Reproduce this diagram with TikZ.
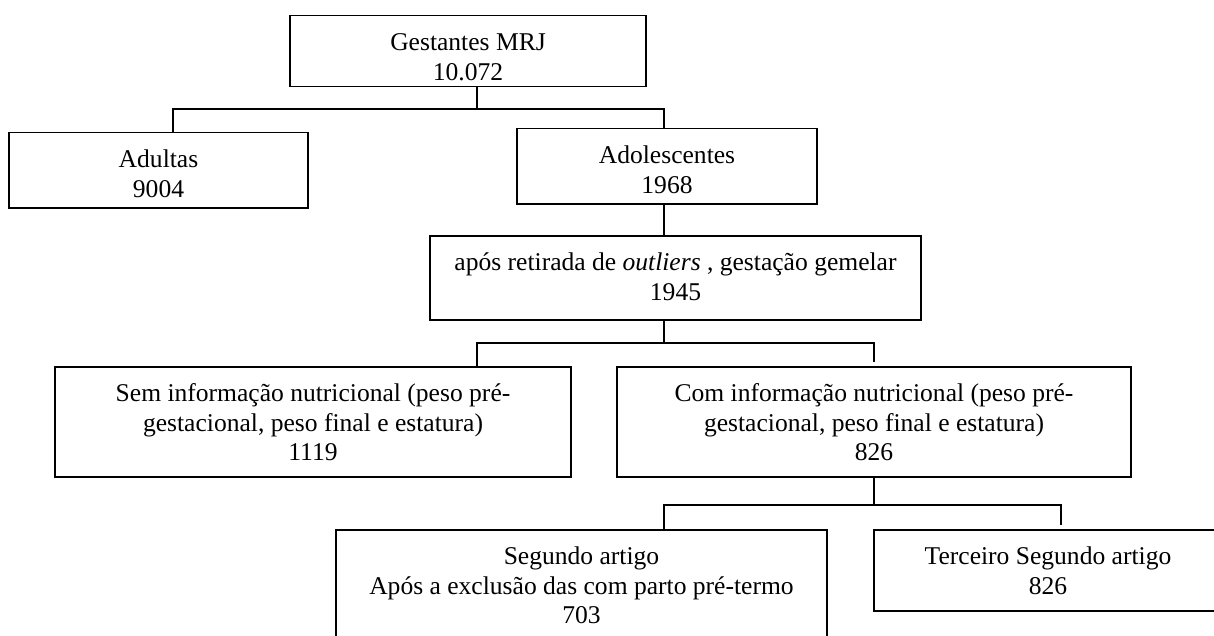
\documentclass[tikz,border=0pt]{standalone}
\usepackage{fontspec}
\setmainfont{Liberation Serif}
\newlength\upx
\setlength\upx{0.4695pt}
\begin{document}
\begin{tikzpicture}[x=\upx, y=-\upx,
    box/.style={draw, line width=0.7pt, inner sep=0pt, anchor=north, align=center,
      font=\fontsize{12pt}{13.8pt}\selectfont},
    box2/.style={box, text height=64.4\upx},
    box3/.style={box, text height=93.8\upx},
    link/.style={line width=0.7pt}]
  \useasboundingbox (0,0) rectangle (1214,635);
  \clip (0,0) rectangle (1214,635);
  \begin{scope}
    \node[box2, minimum width=356\upx, text depth=6.6\upx] (ges) at (468,15) {Gestantes MRJ\\10.072};
    \node[box2, minimum width=299\upx, text depth=10.6\upx] (adu) at (158.5,132) {Adultas\\9004};
    \node[box2, minimum width=300\upx, text depth=10.6\upx] (ado) at (667,128) {Adolescentes\\1968};
    \node[box2, minimum width=491\upx, text depth=19.6\upx] (apos) at (675.5,235) {após retirada de \textit{outliers} , gestação gemelar\\1945};
    \node[box3, minimum width=516\upx, text depth=16.2\upx] (sem) at (313,366) {Sem informação nutricional (peso pré-\\gestacional, peso final e estatura)\\1119};
    \node[box3, minimum width=514\upx, text depth=16.2\upx] (com) at (874,366) {Com informação nutricional (peso pré-\\gestacional, peso final e estatura)\\826};
    \node[box3, minimum width=491\upx, text depth=37.2\upx] (seg) at (581.5,529) {Segundo artigo\\Após a exclusão das com parto pré-termo\\703};
    \node[box2, minimum width=348\upx, text depth=16.6\upx] (ter) at (1048,529) {Terceiro Segundo artigo\\826};
  \end{scope}
  \begin{scope}
    \coordinate (j1) at (477,109);
    \coordinate (l1) at (173,109);
    \coordinate (r1) at (664,109);
    \draw[link] (ges.south -| j1) -- (j1);
    \draw[link] (adu.north -| l1) -- (l1) -- (r1) -- (ado.north -| r1);
    \draw[link] (ado.south -| r1) -- (apos.north -| r1);
    \coordinate (j2) at (664,343);
    \coordinate (l2) at (477,343);
    \coordinate (r2) at (874,343);
    \draw[link] (apos.south -| j2) -- (j2);
    \draw[link, shorten >=4\upx] (sem.north -| l2) -- (l2) -- (r2) -- (com.north -| r2);
    \coordinate (l3) at (664,505);
    \coordinate (r3) at (1061,505);
    \draw[link] (com.south) -- (com.south |- l3);
    \draw[link, shorten >=4\upx] (seg.north -| l3) -- (l3) -- (r3) -- (ter.north -| r3);
  \end{scope}
\end{tikzpicture}
\end{document}
